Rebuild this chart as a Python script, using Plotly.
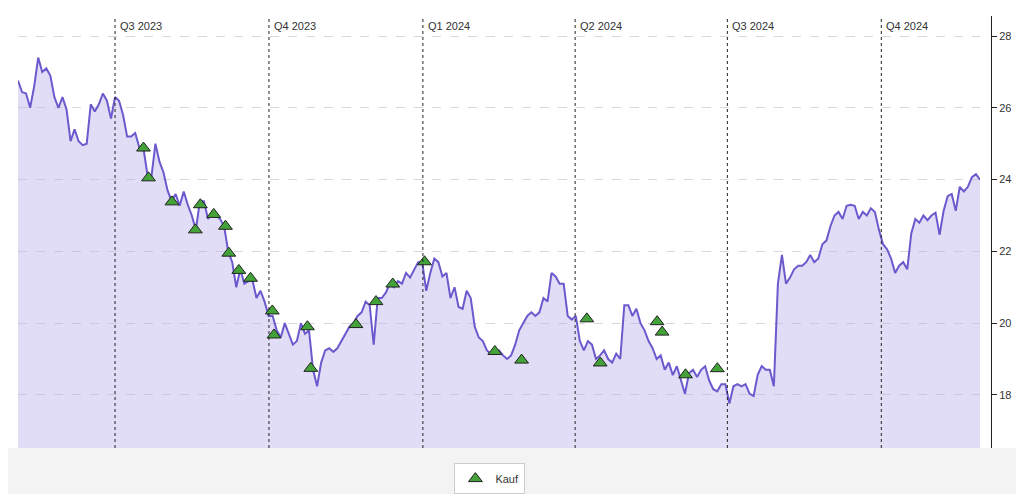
import plotly.graph_objects as go
import pandas as pd

start_date = "2023-05-04"
end_date = "2024-11-29"
prices = [26.76,26.44,26.4,26.0,26.6,27.4,27.0,27.1,26.9,26.3,26.0,26.3,25.96,25.07,25.4,25.07,24.96,25.0,
          26.1,25.9,26.1,26.4,26.2,25.7,26.3,26.2,25.8,25.2,25.2,25.3,24.9,24.9,24.15,24.07,25.0,24.5,24.2,
          23.7,23.4,23.6,23.27,23.67,23.3,23.0,22.6,23.4,23.4,22.9,23.1,23.0,22.9,22.7,22.0,21.7,21.0,21.5,
          21.1,21.17,21.2,20.7,20.9,20.6,20.2,20.2,19.8,19.6,20.0,19.7,19.4,19.5,20.0,19.7,19.8,18.7,18.24,
          18.9,19.24,19.3,19.2,19.3,19.5,19.7,19.9,20.0,20.2,20.3,20.6,20.5,19.4,20.7,20.7,20.85,21.1,21.0,
          21.17,21.1,21.4,21.27,21.5,21.7,21.7,20.9,21.4,21.8,21.7,21.3,21.4,20.7,21.0,20.45,20.4,20.9,20.7,
          19.9,19.6,19.5,19.24,19.15,19.15,19.24,19.1,19.0,19.1,19.4,19.8,20.0,20.2,20.3,20.2,20.3,20.7,20.6,
          21.4,21.3,21.1,21.1,20.2,20.1,20.2,19.5,19.24,19.5,19.4,19.0,19.1,19.24,19.0,18.9,19.15,19.0,20.5,
          20.5,20.2,20.4,20.0,19.8,19.5,19.3,19.0,19.1,18.7,18.9,18.55,18.8,18.4,18.03,18.6,18.7,18.5,18.7,
          18.8,18.4,18.16,18.1,18.3,18.3,17.76,18.24,18.3,18.24,18.3,18.03,17.97,18.56,18.8,18.7,18.7,18.24,
          21.1,21.9,21.1,21.27,21.5,21.6,21.6,21.7,21.9,21.7,21.8,22.2,22.3,22.7,23.0,23.1,22.9,23.27,23.3,
          23.27,22.9,23.1,23.0,23.2,23.1,22.6,22.2,22.06,21.8,21.4,21.6,21.7,21.5,22.5,22.9,22.8,23.0,22.87,
          23.0,23.08,22.46,23.13,23.54,23.6,23.13,23.8,23.67,23.8,24.07,24.15,24.0]

buy_dates = ["2023-07-18","2023-07-21","2023-08-04","2023-08-18","2023-08-21","2023-08-29","2023-09-05",
             "2023-09-07","2023-09-13","2023-09-20","2023-10-03","2023-10-04","2023-10-24","2023-10-26",
             "2023-11-22","2023-12-04","2023-12-14","2024-01-02","2024-02-13","2024-02-29","2024-04-08",
             "2024-04-16","2024-05-20","2024-05-23","2024-06-06","2024-06-25"]
buy_prices = [24.88,24.05,23.38,22.6,23.3,23.03,22.7,21.95,21.47,21.25,20.34,19.67,19.9,18.74,
              19.96,20.6,21.09,21.71,19.21,18.97,20.12,18.89,20.04,19.75,18.56,18.73]

quarter_dates = ["2023-07-01","2023-10-01","2024-01-01","2024-04-01","2024-07-01","2024-10-01"]
quarter_labels = ["Q3 2023","Q4 2023","Q1 2024","Q2 2024","Q3 2024","Q4 2024"]

dates = pd.date_range(start_date, end_date, periods=len(prices))

fig = go.Figure()
fig.add_trace(go.Scatter(x=dates, y=prices, mode="lines", line=dict(color="#6a5acd", width=2),
                         fill="tozeroy", fillcolor="rgba(190,180,235,0.45)", showlegend=False, hoverinfo="skip"))
fig.add_trace(go.Scatter(x=pd.to_datetime(buy_dates), y=buy_prices, mode="markers", name="Kauf",
                         marker=dict(symbol="triangle-up", size=12, color="#43a339",
                                     line=dict(color="#222", width=1))))

shapes = [dict(type="rect", xref="paper", yref="paper", x0=-0.02, x1=1.06, y0=-0.2, y1=0,
               fillcolor="#f3f3f3", line=dict(width=0), layer="below")]
annotations = []
for d, lab in zip(quarter_dates, quarter_labels):
    shapes.append(dict(type="line", xref="x", yref="paper", x0=d, x1=d, y0=0, y1=1,
                       line=dict(color="#222", width=1, dash="dot")))
    annotations.append(dict(x=d, y=1, xref="x", yref="paper", text=lab, showarrow=False,
                            xanchor="left", yanchor="top", xshift=3, yshift=-2,
                            font=dict(size=11, color="#333")))

fig.update_layout(
    width=1024, height=494, margin=dict(l=10, r=41, t=8, b=38),
    paper_bgcolor="white", plot_bgcolor="white",
    font=dict(family="Helvetica, Arial, sans-serif", size=11, color="#333"),
    shapes=shapes, annotations=annotations,
    xaxis=dict(domain=[0, 0.9887], range=[start_date, end_date], showgrid=False, showticklabels=False,
               zeroline=False, showline=False),
    yaxis=dict(side="right", anchor="free", position=1, range=[16.52, 28.56], dtick=2,
               tick0=18, showgrid=True, gridcolor="#d8d8d8", griddash="dash", zeroline=False,
               showline=True, linecolor="#222", ticks="outside", ticklen=5, tickcolor="#222"),
    legend=dict(orientation="h", x=0.485, xanchor="center", y=-0.035, yanchor="top",
                bordercolor="#ccc", borderwidth=1, bgcolor="white"),
)
fig.write_html("out.html")
